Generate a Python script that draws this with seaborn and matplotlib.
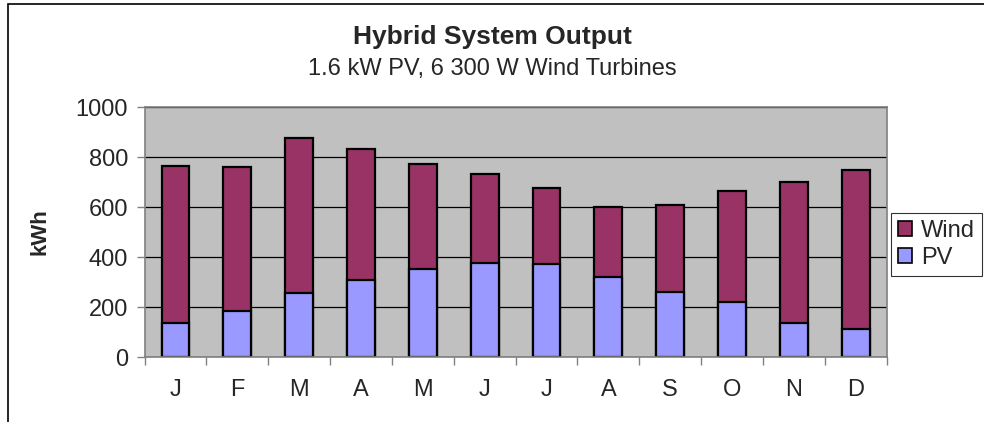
import numpy as np
import pandas as pd
import matplotlib
matplotlib.use("Agg")
import matplotlib.pyplot as plt
import seaborn as sns
from matplotlib.patches import Rectangle, Patch
from matplotlib.ticker import FixedLocator

# data (kWh per month)
months = ["Jan", "Feb", "Mar", "Apr", "May", "Jun",
          "Jul", "Aug", "Sep", "Oct", "Nov", "Dec"]
month_letters = ["J", "F", "M", "A", "M", "J", "J", "A", "S", "O", "N", "D"]
pv = [138, 183, 258, 309, 353, 378, 373, 321, 259, 221, 138, 112]
wind = [627, 576, 620, 525, 418, 356, 304, 279, 348, 443, 564, 635]

df = pd.DataFrame({"Month": months, "PV": pv, "Wind": wind})
df["Total"] = df["PV"] + df["Wind"]

wind_color = "#993366"
pv_color = "#9999FF"

sns.set_style("white")
plt.rcParams["font.family"] = ["Liberation Sans", "DejaVu Sans"]

fig = plt.figure(figsize=(9.84, 4.22), dpi=100)
ax = fig.add_axes([0.147, 0.154, 0.754, 0.592])
ax.set_facecolor("#C0C0C0")

# stacked bars: total in wind colour, PV drawn over it
sns.barplot(data=df, x="Month", y="Total", order=months, color=wind_color,
            saturation=1, width=0.45, edgecolor="black", linewidth=1.6, ax=ax)
sns.barplot(data=df, x="Month", y="PV", order=months, color=pv_color,
            saturation=1, width=0.45, edgecolor="black", linewidth=1.6, ax=ax)

ax.set_ylim(0, 1000)
ax.set_xlim(-0.5, 11.5)
ax.set_yticks(range(0, 1001, 200))
ax.yaxis.grid(True, color="black", linewidth=0.9)
ax.set_axisbelow(True)

ax.set_xticks(range(12))
ax.set_xticklabels(month_letters)
ax.xaxis.set_minor_locator(FixedLocator(np.arange(-0.5, 12, 1)))
ax.tick_params(axis="x", which="major", length=0, pad=16, labelsize=17)
ax.tick_params(axis="x", which="minor", length=6, width=1, color="#808080",
               direction="out", bottom=True)
ax.tick_params(axis="y", length=6, width=1, color="#808080", direction="out",
               left=True, pad=6, labelsize=17)

for side, sp in ax.spines.items():
    sp.set_color("#808080")
    sp.set_linewidth(1.2)

ax.set_xlabel("")
ax.set_ylabel("kWh", fontsize=16, fontweight="bold", labelpad=18)

fig.text(0.5, 0.912, "Hybrid System Output", ha="center", va="center",
         fontsize=19, fontweight="bold")
fig.text(0.5, 0.836, "1.6 kW PV, 6 300 W Wind Turbines", ha="center",
         va="center", fontsize=17)

handles = [Patch(facecolor=wind_color, edgecolor="black", linewidth=1.2),
           Patch(facecolor=pv_color, edgecolor="black", linewidth=1.2)]
leg = fig.legend(handles, ["Wind", "PV"], loc="upper left",
                 bbox_to_anchor=(0.905, 0.495), fontsize=17, frameon=True,
                 fancybox=False, edgecolor="black", handlelength=0.6,
                 handleheight=0.6, handletextpad=0.4, borderpad=0.3,
                 labelspacing=0.2, borderaxespad=0)
leg.get_frame().set_linewidth(0.8)

# outer chart border (cut off at right and bottom)
fig.patches.append(Rectangle((8 / 984, -0.1), 1.2, 1.1 - 4 / 422,
                             transform=fig.transFigure, fill=False,
                             edgecolor="black", linewidth=1.2))

fig.savefig("out.png", dpi=100)
